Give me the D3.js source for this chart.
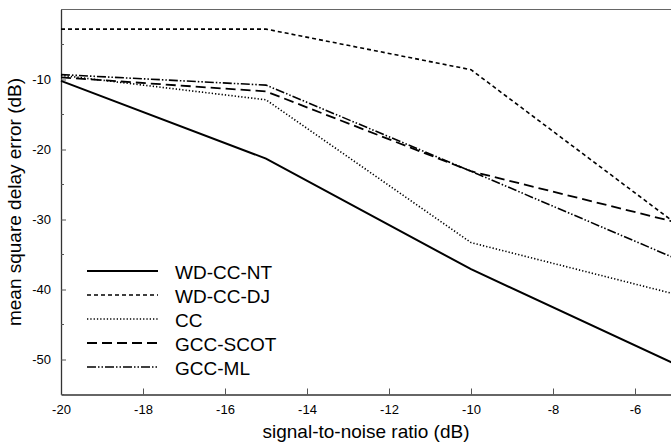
<!DOCTYPE html>
<html>
<head>
<meta charset="utf-8">
<script src="https://cdn.jsdelivr.net/npm/d3@7"></script>
<style>
  body { margin: 0; background: #fff; }
  svg { display: block; font-family: "Liberation Sans", Arial, sans-serif; }
</style>
</head>
<body>
<svg id="chart"></svg>
<script>
// mean square delay error vs SNR, five estimators

const snr = [-20, -15, -10, -5];

const wdccnt = [-10.2, -21.3, -37.1, -50.7];
const wdccdj = [-2.8, -2.8, -8.6, -30.6];
const cc = [-9.4, -12.9, -33.3, -40.7];
const gccscot = [-9.7, -11.7, -23.1, -30.4];
const gccml = [-9.3, -10.8, -23.1, -35.6];

const seriesNames = ["WD-CC-NT", "WD-CC-DJ", "CC", "GCC-SCOT", "GCC-ML"];

const xTicks = [-20, -18, -16, -14, -12, -10, -8, -6];
const yTicks = [-50, -40, -30, -20, -10];
const yMinorTicks = [-55, -45, -35, -25, -15, -5];

const width = 671;
const height = 447;
const margin = { top: 9.5, right: -5, bottom: 52.5, left: 61 };

const svg = d3.select("#chart").attr("width", width).attr("height", height);

const x = d3
  .scaleLinear()
  .domain([-20, -5])
  .range([margin.left, width - margin.right]);

const y = d3
  .scaleLinear()
  .domain([-55, 0])
  .range([height - margin.bottom, margin.top]);

// line styles per series
const styles = [
  { dash: null, w: 2 },
  { dash: "4,3", w: 1.6 },
  { dash: "1.3,2", w: 1.6 },
  { dash: "10,5", w: 1.8 },
  { dash: "9,2,1.5,2,1.5,2", w: 1.6 },
];

const allSeries = [wdccnt, wdccdj, cc, gccscot, gccml];

const fmt = (d) => String(d); // plain hyphen minus like the original

// frame
svg
  .append("line")
  .attr("x1", x(-20))
  .attr("x2", width)
  .attr("y1", y(0))
  .attr("y2", y(0))
  .attr("stroke", "#666")
  .attr("stroke-width", 1.2);

// axes
const xAxis = svg
  .append("g")
  .attr("transform", `translate(0, ${y(-55)})`)
  .call(
    d3
      .axisBottom(x)
      .tickValues(xTicks)
      .tickSizeInner(-6)
      .tickSizeOuter(0)
      .tickPadding(10)
      .tickFormat(fmt)
  );
xAxis.select(".domain").attr("stroke", "#333").attr("stroke-width", 1.3);
xAxis.selectAll(".tick line").attr("stroke", "#555");
xAxis.selectAll("text").attr("font-size", 13).attr("fill", "#000");

const yAxis = svg
  .append("g")
  .attr("transform", `translate(${x(-20)}, 0)`)
  .call(
    d3
      .axisLeft(y)
      .tickValues(yTicks)
      .tickSizeInner(-5)
      .tickSizeOuter(0)
      .tickPadding(10)
      .tickFormat(fmt)
  );
yAxis.select(".domain").attr("stroke", "#333").attr("stroke-width", 1.3);
yAxis.selectAll(".tick line").attr("stroke", "#555");
yAxis.selectAll("text").attr("font-size", 13).attr("fill", "#000");

svg
  .append("g")
  .selectAll("line")
  .data(yMinorTicks)
  .enter()
  .append("line")
  .attr("x1", x(-20))
  .attr("x2", x(-20) + 3)
  .attr("y1", (d) => y(d))
  .attr("y2", (d) => y(d))
  .attr("stroke", "#555");

// axis titles
svg
  .append("text")
  .attr("x", 366)
  .attr("y", 438)
  .attr("text-anchor", "middle")
  .attr("font-size", 19)
  .text("signal-to-noise ratio (dB)");

svg
  .append("text")
  .attr("transform", "translate(21, 202) rotate(-90)")
  .attr("text-anchor", "middle")
  .attr("font-size", 19)
  .text("mean square delay error (dB)");

// series lines
const line = d3
  .line()
  .x((d, i) => x(snr[i]))
  .y((d) => y(d));

svg
  .append("g")
  .selectAll("path")
  .data(allSeries)
  .enter()
  .append("path")
  .attr("d", (d) => line(d))
  .attr("fill", "none")
  .attr("stroke", "#000")
  .attr("stroke-width", (d, i) => styles[i].w)
  .attr("stroke-dasharray", (d, i) => styles[i].dash);

// legend
const legend = svg
  .append("g")
  .selectAll("g")
  .data(seriesNames)
  .enter()
  .append("g")
  .attr("transform", (d, i) => `translate(87, ${271 + i * 24})`);

legend
  .append("line")
  .attr("x1", 0)
  .attr("x2", 71)
  .attr("stroke", "#000")
  .attr("stroke-width", (d, i) => styles[i].w)
  .attr("stroke-dasharray", (d, i) => styles[i].dash);

legend
  .append("text")
  .attr("x", 88)
  .attr("y", 8)
  .attr("font-size", 19)
  .text((d) => d);
</script>
</body>
</html>
